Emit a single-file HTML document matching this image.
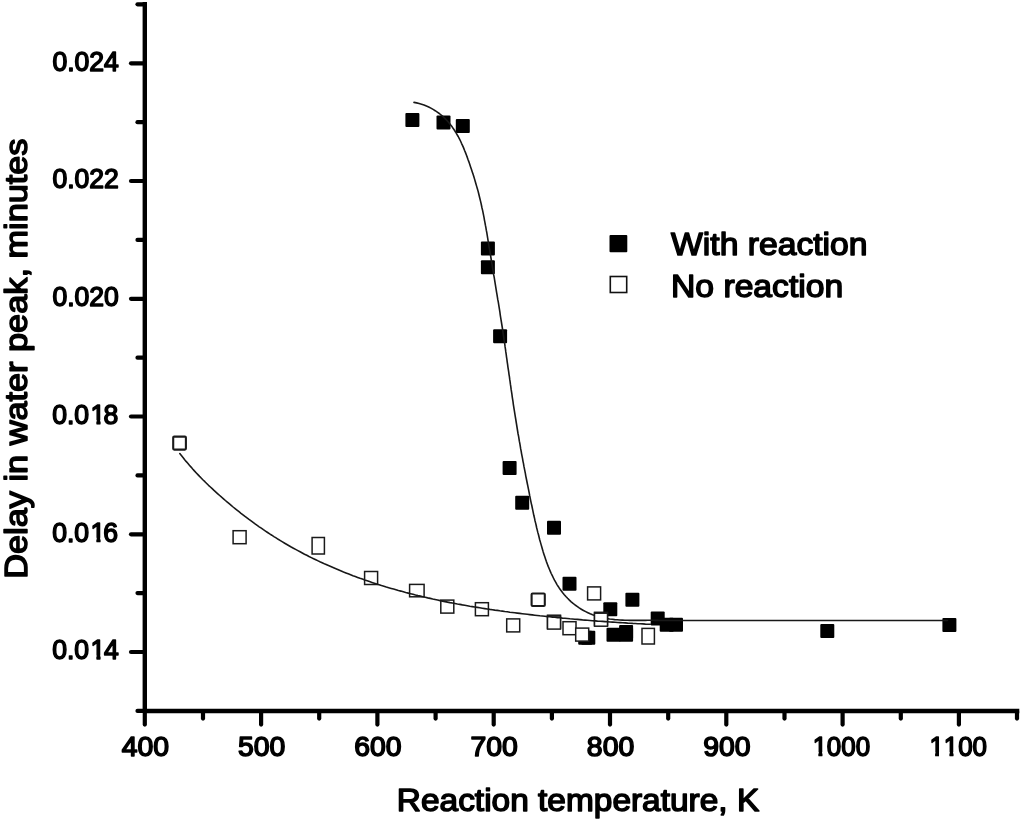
<!DOCTYPE html>
<html><head><meta charset="utf-8"><title>Delay in water peak vs reaction temperature</title>
<style>html,body{margin:0;padding:0;background:#fff}body{width:1024px;height:824px;overflow:hidden}svg{display:block}text{font-family:"Liberation Sans",Arial,sans-serif;fill:#000;stroke:#000;stroke-linejoin:round}</style></head><body>
<svg width="1024" height="824" viewBox="0 0 1024 824">
<rect width="1024" height="824" fill="#fff"/>
<g fill="#000">
<rect x="405.4" y="113.0" width="14.0" height="14.0" rx="1"/>
<rect x="436.5" y="115.6" width="14.0" height="14.0" rx="1"/>
<rect x="455.8" y="118.9" width="14.0" height="14.0" rx="1"/>
<rect x="480.9" y="241.6" width="14.0" height="14.0" rx="1"/>
<rect x="480.9" y="260.2" width="14.0" height="14.0" rx="1"/>
<rect x="493.1" y="329.3" width="14.0" height="14.0" rx="1"/>
<rect x="502.6" y="461.1" width="14.0" height="14.0" rx="1"/>
<rect x="515.2" y="495.8" width="14.0" height="14.0" rx="1"/>
<rect x="547.0" y="520.8" width="14.0" height="14.0" rx="1"/>
<rect x="562.5" y="576.8" width="14.0" height="14.0" rx="1"/>
<rect x="578.2" y="630.8" width="14.0" height="14.0" rx="1"/>
<rect x="581.3" y="630.8" width="14.0" height="14.0" rx="1"/>
<rect x="603.3" y="602.2" width="14.0" height="14.0" rx="1"/>
<rect x="625.4" y="592.8" width="14.0" height="14.0" rx="1"/>
<rect x="606.5" y="627.7" width="14.0" height="14.0" rx="1"/>
<rect x="619.1" y="625.0" width="14.0" height="14.0" rx="1"/>
<rect x="619.1" y="627.8" width="14.0" height="14.0" rx="1"/>
<rect x="650.7" y="611.5" width="14.0" height="14.0" rx="1"/>
<rect x="659.7" y="617.8" width="14.0" height="14.0" rx="1"/>
<rect x="669.0" y="617.8" width="14.0" height="14.0" rx="1"/>
<rect x="820.3" y="624.1" width="14.0" height="14.0" rx="1"/>
<rect x="942.4" y="618.0" width="14.0" height="14.0" rx="1"/>
</g>
<path d="M414.0,102.4 L416.6,102.9 L419.1,103.5 L421.6,104.2 L424.0,105.0 L426.4,106.0 L428.7,107.0 L430.9,108.1 L433.1,109.4 L435.2,110.7 L437.3,112.1 L439.3,113.5 L441.2,115.1 L443.1,116.7 L444.9,118.4 L446.7,120.2 L448.3,122.1 L449.9,124.0 L451.5,125.9 L452.9,128.0 L454.3,130.0 L455.7,132.2 L456.9,134.3 L458.2,136.5 L459.3,138.7 L460.5,141.0 L461.5,143.3 L462.6,145.6 L463.6,147.9 L464.5,150.3 L465.5,152.6 L466.4,155.0 L467.3,157.4 L468.1,159.7 L469.0,162.1 L469.8,164.5 L470.6,166.9 L471.4,169.3 L472.2,171.7 L473.0,174.1 L473.8,176.5 L474.5,178.9 L475.2,181.3 L475.9,183.7 L476.6,186.1 L477.3,188.5 L478.0,190.9 L478.6,193.3 L479.2,195.8 L479.8,198.2 L480.4,200.6 L481.0,203.1 L481.5,205.5 L482.0,208.0 L482.6,210.4 L483.1,212.9 L483.6,215.4 L484.1,217.8 L484.5,220.3 L485.0,222.8 L485.4,225.2 L485.9,227.7 L486.3,230.2 L486.8,232.7 L487.2,235.1 L487.6,237.6 L488.0,240.1 L488.4,242.6 L488.8,245.1 L489.2,247.6 L489.7,250.0 L490.1,252.5 L490.5,255.0 L490.9,257.5 L491.3,260.0 L491.7,262.5 L492.1,264.9 L492.5,267.4 L492.9,269.9 L493.3,272.4 L493.7,274.9 L494.2,277.4 L494.6,279.8 L495.0,282.3 L495.4,284.8 L495.8,287.3 L496.2,289.8 L496.6,292.3 L497.0,294.7 L497.4,297.2 L497.8,299.7 L498.3,302.2 L498.7,304.7 L499.1,307.1 L499.5,309.6 L499.9,312.1 L500.2,314.6 L500.6,317.1 L501.0,319.6 L501.4,322.0 L501.8,324.5 L502.2,327.0 L502.6,329.5 L502.9,332.0 L503.3,334.5 L503.7,337.0 L504.0,339.4 L504.4,341.9 L504.8,344.4 L505.1,346.9 L505.5,349.4 L505.8,351.9 L506.2,354.4 L506.5,356.8 L506.9,359.3 L507.2,361.8 L507.6,364.3 L507.9,366.8 L508.3,369.3 L508.7,371.8 L509.0,374.3 L509.4,376.7 L509.7,379.2 L510.1,381.7 L510.4,384.2 L510.8,386.7 L511.1,389.2 L511.5,391.7 L511.9,394.2 L512.2,396.6 L512.6,399.1 L513.0,401.6 L513.3,404.1 L513.7,406.6 L514.1,409.1 L514.5,411.6 L514.9,414.1 L515.3,416.6 L515.7,419.0 L516.1,421.5 L516.5,424.0 L516.9,426.5 L517.3,429.0 L517.7,431.5 L518.1,434.0 L518.6,436.4 L519.0,438.9 L519.4,441.4 L519.9,443.9 L520.3,446.4 L520.7,448.9 L521.2,451.3 L521.6,453.8 L522.1,456.3 L522.6,458.8 L523.0,461.3 L523.5,463.7 L523.9,466.2 L524.4,468.7 L524.9,471.1 L525.4,473.6 L525.8,476.1 L526.3,478.5 L526.8,481.0 L527.3,483.5 L527.8,485.9 L528.3,488.4 L528.8,490.8 L529.3,493.3 L529.7,495.7 L530.2,498.2 L530.7,500.6 L531.2,503.1 L531.8,505.5 L532.3,508.0 L532.8,510.4 L533.3,512.8 L533.8,515.3 L534.4,517.7 L534.9,520.2 L535.5,522.6 L536.1,525.0 L536.6,527.5 L537.2,529.9 L537.8,532.4 L538.5,534.8 L539.1,537.2 L539.7,539.7 L540.4,542.1 L541.1,544.6 L541.8,547.0 L542.5,549.5 L543.2,551.9 L544.0,554.4 L544.8,556.8 L545.6,559.2 L546.4,561.6 L547.3,564.0 L548.2,566.4 L549.2,568.8 L550.2,571.1 L551.2,573.5 L552.3,575.7 L553.4,578.0 L554.5,580.2 L555.8,582.4 L557.0,584.6 L558.4,586.7 L559.7,588.8 L561.2,590.8 L562.7,592.8 L564.3,594.7 L565.9,596.5 L567.6,598.3 L569.4,600.1 L571.2,601.8 L573.1,603.4 L575.1,605.0 L577.1,606.4 L579.2,607.9 L581.3,609.2 L583.5,610.5 L585.7,611.6 L587.9,612.7 L590.2,613.8 L592.6,614.7 L594.9,615.5 L597.3,616.3 L599.7,617.0 L602.2,617.6 L604.7,618.1 L607.1,618.6 L609.6,619.0 L612.2,619.3 L614.7,619.6 L617.2,619.8 L619.8,620.0 L622.4,620.1 L624.9,620.2 L627.5,620.3 L630.1,620.4 L632.6,620.4 L635.2,620.4 L637.7,620.4 L640.3,620.4 L642.8,620.4 L645.3,620.4 L647.8,620.3 L650.3,620.3 L652.8,620.3 L655.2,620.4 L657.6,620.4 L660.0,620.5 L947.5,620.5" fill="none" stroke="#181818" stroke-width="1.6" stroke-linecap="round" stroke-linejoin="round"/>
<g fill="#fff" stroke="#1a1a1a" stroke-width="1.5">
<rect x="173.2" y="436.6" width="12.7" height="13.0" stroke-width="2.1" rx="1"/>
<rect x="233.1" y="530.7" width="13.0" height="13.0"/>
<rect x="312.1" y="537.5" width="12.3" height="16.5"/>
<rect x="364.6" y="571.5" width="13.0" height="13.0"/>
<rect x="409.6" y="584.4" width="14.5" height="12.4"/>
<rect x="440.8" y="600.1" width="13.0" height="13.0"/>
<rect x="475.4" y="602.7" width="13.0" height="13.0"/>
<rect x="506.7" y="618.9" width="13.0" height="13.0"/>
<rect x="531.6" y="593.5" width="13.2" height="12.5" stroke-width="2.1" rx="1"/>
<rect x="547.5" y="615.2" width="13.0" height="13.0"/>
<rect x="547.5" y="616.1" width="13.0" height="13.0"/>
<rect x="563.0" y="621.7" width="13.0" height="13.0"/>
<rect x="575.7" y="628.1" width="13.0" height="13.0"/>
<rect x="587.6" y="586.9" width="13.0" height="13.0"/>
<rect x="594.5" y="612.3" width="13.0" height="13.0"/>
<rect x="594.5" y="613.2" width="13.0" height="13.0"/>
<rect x="642.0" y="628.4" width="12.4" height="15.6"/>
</g>
<path d="M179.8,453.5 L181.4,455.5 L183.0,457.5 L184.5,459.5 L186.1,461.4 L187.8,463.3 L189.4,465.2 L191.1,467.1 L192.7,469.0 L194.4,470.9 L196.1,472.7 L197.9,474.6 L199.6,476.4 L201.4,478.2 L203.1,480.0 L204.9,481.7 L206.7,483.5 L208.5,485.3 L210.4,487.0 L212.2,488.7 L214.0,490.4 L215.9,492.1 L217.8,493.8 L219.7,495.5 L221.6,497.2 L223.5,498.8 L225.4,500.5 L227.3,502.1 L229.2,503.7 L231.2,505.4 L233.1,507.0 L235.1,508.6 L237.0,510.1 L239.0,511.7 L241.0,513.3 L243.0,514.8 L245.0,516.4 L247.0,517.9 L249.0,519.4 L251.1,520.9 L253.1,522.4 L255.1,523.9 L257.2,525.4 L259.2,526.8 L261.3,528.2 L263.4,529.7 L265.5,531.1 L267.6,532.5 L269.7,533.9 L271.8,535.2 L273.9,536.6 L276.1,537.9 L278.2,539.3 L280.4,540.6 L282.5,541.9 L284.7,543.2 L286.9,544.5 L289.0,545.7 L291.2,547.0 L293.4,548.2 L295.6,549.4 L297.9,550.6 L300.1,551.8 L302.3,553.0 L304.5,554.2 L306.8,555.3 L309.0,556.5 L311.3,557.6 L313.6,558.7 L315.8,559.8 L318.1,560.9 L320.4,562.0 L322.7,563.0 L325.0,564.1 L327.3,565.1 L329.6,566.1 L331.9,567.1 L334.2,568.1 L336.5,569.1 L338.9,570.1 L341.2,571.0 L343.5,572.0 L345.9,572.9 L348.2,573.8 L350.6,574.8 L352.9,575.7 L355.3,576.5 L357.6,577.4 L360.0,578.3 L362.4,579.1 L364.8,580.0 L367.2,580.8 L369.5,581.6 L371.9,582.4 L374.3,583.2 L376.7,584.0 L379.1,584.7 L381.5,585.5 L383.9,586.2 L386.3,587.0 L388.7,587.7 L391.2,588.4 L393.6,589.1 L396.0,589.8 L398.4,590.5 L400.9,591.1 L403.3,591.8 L405.7,592.5 L408.2,593.1 L410.6,593.7 L413.0,594.3 L415.5,595.0 L417.9,595.6 L420.4,596.1 L422.8,596.7 L425.3,597.3 L427.7,597.9 L430.2,598.4 L432.7,599.0 L435.1,599.5 L437.6,600.0 L440.1,600.6 L442.5,601.1 L445.0,601.6 L447.5,602.1 L450.0,602.6 L452.4,603.0 L454.9,603.5 L457.4,604.0 L459.9,604.4 L462.4,604.9 L464.8,605.3 L467.3,605.7 L469.8,606.2 L472.3,606.6 L474.8,607.0 L477.3,607.4 L479.8,607.8 L482.3,608.2 L484.8,608.6 L487.3,609.0 L489.8,609.4 L492.3,609.7 L494.8,610.1 L497.3,610.4 L499.8,610.8 L502.3,611.1 L504.8,611.5 L507.3,611.8 L509.8,612.2 L512.3,612.5 L514.8,612.8 L517.3,613.1 L519.8,613.4 L522.3,613.7 L524.8,614.0 L527.3,614.3 L529.8,614.6 L532.3,614.9 L534.8,615.2 L537.3,615.5 L539.8,615.8 L542.3,616.0 L544.9,616.3 L547.4,616.6 L549.9,616.8 L552.4,617.1 L554.9,617.3 L557.4,617.6 L559.9,617.8 L562.4,618.1 L564.9,618.3 L567.4,618.5 L569.9,618.8 L572.4,619.0 L574.9,619.2 L577.4,619.4 L579.9,619.6 L582.5,619.9 L585.0,620.1 L587.5,620.3 L590.0,620.5 L592.5,620.7 L595.0,620.9 L597.5,621.1 L600.0,621.2 L602.5,621.4 L605.1,621.6 L607.6,621.8 L610.1,622.0 L612.6,622.1 L615.1,622.3 L617.6,622.5 L620.1,622.6 L622.7,622.8 L625.2,622.9 L627.7,623.1 L630.2,623.2 L632.7,623.4 L635.3,623.5 L637.8,623.7 L640.3,623.8 L642.8,623.9 L645.4,624.1 L647.9,624.2 L650.4,624.3" fill="none" stroke="#181818" stroke-width="1.6" stroke-linecap="round" stroke-linejoin="round"/>
<g stroke="#000" stroke-linecap="round" fill="none">
<line x1="144.8" y1="2" x2="144.8" y2="711.0" stroke-width="4.4" stroke-linecap="butt"/>
<line x1="144.8" y1="711.0" x2="1019.3" y2="711.0" stroke-width="4.4" stroke-linecap="butt"/>
<line x1="137.5" y1="710.9" x2="144.8" y2="710.9" stroke-width="4.2"/>
<line x1="131" y1="652.0" x2="144.8" y2="652.0" stroke-width="4.2"/>
<line x1="137.5" y1="593.1" x2="144.8" y2="593.1" stroke-width="4.2"/>
<line x1="131" y1="534.3" x2="144.8" y2="534.3" stroke-width="4.2"/>
<line x1="137.5" y1="475.4" x2="144.8" y2="475.4" stroke-width="4.2"/>
<line x1="131" y1="416.5" x2="144.8" y2="416.5" stroke-width="4.2"/>
<line x1="137.5" y1="357.7" x2="144.8" y2="357.7" stroke-width="4.2"/>
<line x1="131" y1="298.8" x2="144.8" y2="298.8" stroke-width="4.2"/>
<line x1="137.5" y1="239.9" x2="144.8" y2="239.9" stroke-width="4.2"/>
<line x1="131" y1="181.0" x2="144.8" y2="181.0" stroke-width="4.2"/>
<line x1="137.5" y1="122.2" x2="144.8" y2="122.2" stroke-width="4.2"/>
<line x1="131" y1="63.3" x2="144.8" y2="63.3" stroke-width="4.2"/>
<line x1="137.5" y1="4.3" x2="144.8" y2="4.3" stroke-width="4.2"/>
<line x1="144.8" y1="711.0" x2="144.8" y2="724.6" stroke-width="4.2"/>
<line x1="203.0" y1="711.0" x2="203.0" y2="718.6" stroke-width="4.2"/>
<line x1="261.1" y1="711.0" x2="261.1" y2="724.6" stroke-width="4.2"/>
<line x1="319.2" y1="711.0" x2="319.2" y2="718.6" stroke-width="4.2"/>
<line x1="377.4" y1="711.0" x2="377.4" y2="724.6" stroke-width="4.2"/>
<line x1="435.6" y1="711.0" x2="435.6" y2="718.6" stroke-width="4.2"/>
<line x1="493.7" y1="711.0" x2="493.7" y2="724.6" stroke-width="4.2"/>
<line x1="551.9" y1="711.0" x2="551.9" y2="718.6" stroke-width="4.2"/>
<line x1="610.0" y1="711.0" x2="610.0" y2="724.6" stroke-width="4.2"/>
<line x1="668.2" y1="711.0" x2="668.2" y2="718.6" stroke-width="4.2"/>
<line x1="726.3" y1="711.0" x2="726.3" y2="724.6" stroke-width="4.2"/>
<line x1="784.5" y1="711.0" x2="784.5" y2="718.6" stroke-width="4.2"/>
<line x1="842.6" y1="711.0" x2="842.6" y2="724.6" stroke-width="4.2"/>
<line x1="900.8" y1="711.0" x2="900.8" y2="718.6" stroke-width="4.2"/>
<line x1="958.9" y1="711.0" x2="958.9" y2="724.6" stroke-width="4.2"/>
<line x1="1017.0" y1="711.0" x2="1017.0" y2="718.6" stroke-width="4.2"/>
</g>
<defs><clipPath id="one"><path d="M-6,-32H30V-3.87H9.98V0.75H5.99V-3.87H-6Z"/></clipPath></defs>
<g font-size="27" stroke-width="1.5" text-anchor="middle">
<text transform="translate(145.3,755.8) scale(1.05,1)">400</text>
<text transform="translate(261.6,755.8) scale(1.05,1)">500</text>
<text transform="translate(377.9,755.8) scale(1.05,1)">600</text>
<text transform="translate(494.2,755.8) scale(1.05,1)">700</text>
<text transform="translate(610.5,755.8) scale(1.05,1)">800</text>
<text transform="translate(726.8,755.8) scale(1.05,1)">900</text>
</g>
<g font-size="27" stroke-width="1.5">
<text transform="translate(812.75,755.8) scale(0.96,1)" clip-path="url(#one)">1</text>
<text transform="translate(826.81,755.8) scale(0.96,1)">000</text>
<text transform="translate(929.45,755.8) scale(0.96,1)" clip-path="url(#one)">1</text>
<text transform="translate(943.80,755.8) scale(0.96,1)" clip-path="url(#one)">1</text>
<text transform="translate(958.21,755.8) scale(0.96,1)">00</text>
<text transform="translate(52.20,659.4) scale(0.985,1)">0.0</text>
<text transform="translate(90.60,659.4) scale(0.985,1)" clip-path="url(#one)">1</text>
<text transform="translate(104.03,659.4) scale(0.985,1)">4</text>
<text transform="translate(52.20,541.7) scale(0.985,1)">0.0</text>
<text transform="translate(90.60,541.7) scale(0.985,1)" clip-path="url(#one)">1</text>
<text transform="translate(103.29,541.7) scale(0.985,1)">6</text>
<text transform="translate(52.20,423.9) scale(0.985,1)">0.0</text>
<text transform="translate(90.60,423.9) scale(0.985,1)" clip-path="url(#one)">1</text>
<text transform="translate(103.48,423.9) scale(0.985,1)">8</text>
</g>
<g font-size="27" stroke-width="1.5" text-anchor="end">
<text transform="translate(118.9,306.2) scale(0.985,1)">0.020</text>
<text transform="translate(118.9,188.4) scale(0.985,1)">0.022</text>
<text transform="translate(118.9,70.7) scale(0.985,1)">0.024</text>
</g>
<g font-size="32" stroke-width="1.5">
<text transform="translate(578,811) scale(1.045,1)" text-anchor="middle">Reaction temperature, K</text>
<text transform="translate(27.2,358.6) rotate(-90) scale(1.072,1)" text-anchor="middle">Delay in water peak, minutes</text>
<text transform="translate(671,254.8) scale(1.053,1)">With reaction</text>
<text transform="translate(671,297.3) scale(1.053,1)">No reaction</text>
</g>
<rect x="609.5" y="235" width="17.8" height="17.3" rx="1" fill="#000"/>
<rect x="610.3" y="276.5" width="16.4" height="16" fill="#fff" stroke="#111" stroke-width="1.6"/>
</svg></body></html>
